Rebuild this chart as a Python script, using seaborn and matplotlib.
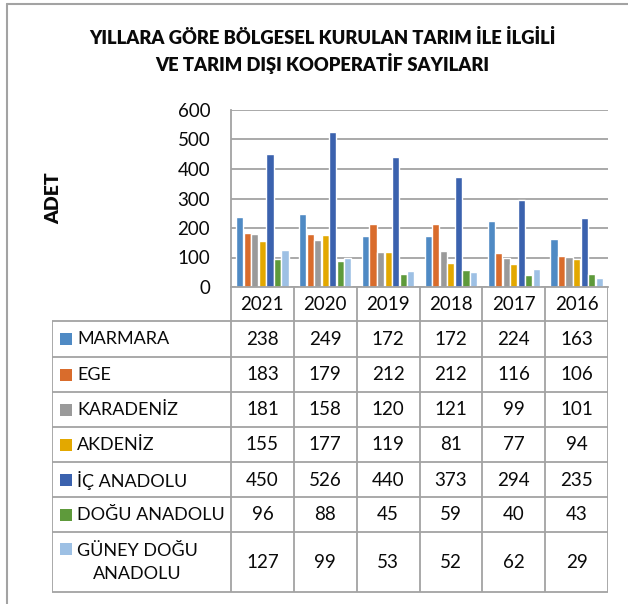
import numpy as np
import pandas as pd
import matplotlib
matplotlib.use("Agg")
import matplotlib.pyplot as plt
from matplotlib.lines import Line2D
import seaborn as sns

# Veri
YEARS = ["2021", "2020", "2019", "2018", "2017", "2016"]
REGIONS = ["MARMARA", "EGE", "KARADENİZ", "AKDENİZ", "İÇ ANADOLU",
           "DOĞU ANADOLU", "GÜNEY DOĞU\nANADOLU"]
MARMARA = [238, 249, 172, 172, 224, 163]
EGE = [183, 179, 212, 212, 116, 106]
KARADENIZ = [181, 158, 120, 121, 99, 101]
AKDENIZ = [155, 177, 119, 81, 77, 94]
IC_ANADOLU = [450, 526, 440, 373, 294, 235]
DOGU_ANADOLU = [96, 88, 45, 59, 40, 43]
GUNEYDOGU = [127, 99, 53, 52, 62, 29]
SERIES = [MARMARA, EGE, KARADENIZ, AKDENIZ, IC_ANADOLU, DOGU_ANADOLU, GUNEYDOGU]
COLORS = ["#4F8AC4", "#D96C2C", "#9A9A9A", "#E3A800", "#3B62AE", "#5E9A3B", "#9DC0E4"]
Y_TICKS = [0, 100, 200, 300, 400, 500, 600]

rows = []
for reg, vals in zip(REGIONS, SERIES):
    for yr, v in zip(YEARS, vals):
        rows.append({"Yil": yr, "Bolge": reg, "Adet": v})
df = pd.DataFrame(rows)

sns.set_theme(style="white")
plt.rcParams['font.family'] = ['Lato', 'DejaVu Sans']

W, H = 628, 604
fig = plt.figure(figsize=(W / 100, H / 100), dpi=100)
GRAY = "#A3A3A3"
TXT = "#0A0A0A"

# piksel -> figür oranı
def fx(px):
    return px / W

def fy(py):
    return 1 - py / H

PL, PR, PT, PB = 231, 608, 110, 287
TB = 593
TL = 52

ax = fig.add_axes([fx(PL), fy(PB), fx(PR - PL), (PB - PT) / H])
sns.barplot(data=df, x="Yil", y="Adet", hue="Bolge", order=YEARS, hue_order=REGIONS,
            palette=COLORS, width=0.84, gap=0.05, saturation=1, legend=False, ax=ax)
ax.set_xlim(-0.5, len(YEARS) - 0.5)
ax.set_ylim(0, 600)
ax.set_yticks(Y_TICKS)
ax.set_yticklabels([str(t) for t in Y_TICKS], fontsize=13.5, color=TXT)
ax.tick_params(axis="y", length=0, pad=15)
ax.set_xticks([])
ax.set_xlabel("")
ax.set_ylabel("")
ax.yaxis.grid(True, color=GRAY, lw=1.3)
ax.set_axisbelow(True)
for s in ["top", "right"]:
    ax.spines[s].set_visible(False)
for s in ["left", "bottom"]:
    ax.spines[s].set_color(GRAY)
    ax.spines[s].set_linewidth(1.3)

# Veri tablosu
tab = fig.add_axes([fx(TL), fy(TB), fx(PR - TL), (TB - PB) / H])
cw = (PR - PL) / len(YEARS)

def tx(px):
    return -0.5 + (px - PL) / cw

tab.set_xlim(tx(TL), len(YEARS) - 0.5)
tab.set_ylim(TB - PB, 0)
tab.axis("off")

bounds = [34.3, 69.7, 104.7, 139.7, 175.3, 209.7, 244.7, TB - PB - 0.6]
lk = dict(color=GRAY, lw=1.3, solid_capstyle="butt")
for b in bounds:
    tab.plot([tx(TL), len(YEARS) - 0.5], [b, b], **lk)
tab.plot([tx(TL), tx(TL)], [bounds[0], bounds[-1]], **lk)
for i in range(len(YEARS) + 1):
    tab.plot([i - 0.5, i - 0.5], [0, bounds[-1]], **lk)

for i, yr in enumerate(YEARS):
    tab.text(i, bounds[0] / 2 + 0.5, yr, ha="center", va="center", fontsize=13.5, color=TXT)

for r, (reg, vals, c) in enumerate(zip(REGIONS, SERIES, COLORS)):
    top, bot = bounds[r], bounds[r + 1]
    yc = (top + bot) / 2 + 0.5
    for i, v in enumerate(vals):
        tab.text(i, yc, str(v), ha="center", va="center", fontsize=13.5, color=TXT)
    if "\n" in reg:
        tab.scatter([tx(66)], [top + 17], marker="s", s=70, color=c, linewidths=0)
        tab.text(tx(77), yc, reg, ha="left", va="center", multialignment="center",
                 fontsize=13, color=TXT, linespacing=1.55)
    else:
        tab.scatter([tx(66)], [yc], marker="s", s=70, color=c, linewidths=0)
        tab.text(tx(77), yc, reg, ha="left", va="center", fontsize=13, color=TXT)

# Başlık ve eksen adı
fig.text(fx(322), fy(38), "YILLARA GÖRE BÖLGESEL KURULAN TARIM İLE İLGİLİ",
         ha="center", va="center", fontsize=13.2, fontweight="heavy", color=TXT)
fig.text(fx(322), fy(64), "VE TARIM DIŞI KOOPERATİF SAYILARI",
         ha="center", va="center", fontsize=13.2, fontweight="heavy", color=TXT)
fig.text(fx(54), fy(198), "ADET", rotation=90, ha="center", va="center",
         fontsize=14, fontweight="heavy", color=TXT)

# Dış çerçeve
fig.add_artist(Line2D([fx(7), fx(7)], [0, fy(4)], color=GRAY, lw=1.5))
fig.add_artist(Line2D([fx(7), 1], [fy(4), fy(4)], color=GRAY, lw=1.5))

fig.savefig("out.png", dpi=100, facecolor="white")
